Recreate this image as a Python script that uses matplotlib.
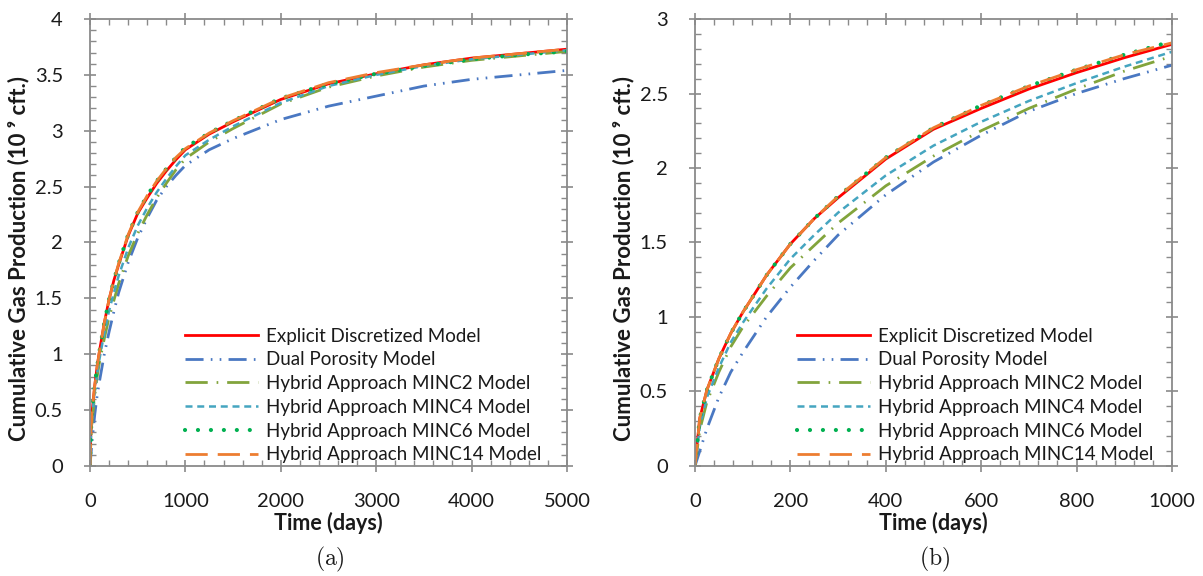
import matplotlib
matplotlib.use("Agg")
import matplotlib.pyplot as plt
from matplotlib.ticker import MultipleLocator, FuncFormatter

# ---------------- data ----------------
days = [0, 10, 25, 50, 75, 100, 150, 200, 250, 300, 400, 500, 600, 700, 800,
        900, 1000, 1250, 1500, 2000, 2500, 3000, 3500, 4000, 4500, 5000]

explicit = [0, 0.32, 0.51, 0.72, 0.89, 1.03, 1.28, 1.49, 1.66, 1.80, 2.06, 2.26,
            2.40, 2.53, 2.64, 2.74, 2.83, 2.97, 3.08, 3.28, 3.42, 3.51, 3.59,
            3.65, 3.69, 3.73]
dual = [0, 0.10, 0.25, 0.46, 0.63, 0.76, 1.00, 1.20, 1.38, 1.55, 1.82, 2.04,
        2.22, 2.38, 2.50, 2.60, 2.69, 2.83, 2.93, 3.10, 3.22, 3.31, 3.40, 3.46,
        3.50, 3.54]
minc2 = [0, 0.24, 0.43, 0.63, 0.80, 0.93, 1.14, 1.33, 1.48, 1.63, 1.88, 2.08,
         2.25, 2.40, 2.53, 2.65, 2.75, 2.90, 3.02, 3.24, 3.39, 3.49, 3.57, 3.63,
         3.67, 3.71]
minc4 = [0, 0.26, 0.46, 0.66, 0.83, 0.96, 1.19, 1.39, 1.55, 1.70, 1.95, 2.15,
         2.31, 2.45, 2.57, 2.68, 2.78, 2.92, 3.04, 3.25, 3.40, 3.50, 3.58, 3.64,
         3.68, 3.72]
minc6 = [0, 0.32, 0.51, 0.72, 0.89, 1.03, 1.28, 1.49, 1.66, 1.81, 2.07, 2.27,
         2.42, 2.55, 2.66, 2.76, 2.85, 2.98, 3.09, 3.29, 3.42, 3.51, 3.58, 3.64,
         3.68, 3.71]
minc14 = [0, 0.32, 0.51, 0.72, 0.89, 1.03, 1.28, 1.49, 1.66, 1.81, 2.07, 2.27,
          2.42, 2.55, 2.66, 2.76, 2.84, 2.98, 3.09, 3.29, 3.43, 3.52, 3.59,
          3.65, 3.69, 3.73]

labels = ["Explicit Discretized Model", "Dual Porosity Model",
          "Hybrid Approach MINC2 Model", "Hybrid Approach MINC4 Model",
          "Hybrid Approach MINC6 Model", "Hybrid Approach MINC14 Model"]
series = [explicit, dual, minc2, minc4, minc6, minc14]

# ---------------- styles ----------------
styles = [
    dict(color="#ff0000", lw=2.0, ls="-"),
    dict(color="#4a78c2", lw=2.0, dashes=(6.5, 2.6, 0.6, 2.6, 0.6, 2.6)),
    dict(color="#82a43c", lw=2.0, dashes=(8, 3.2, 0.6, 3.2)),
    dict(color="#45a5c0", lw=1.8, dashes=(2.8, 1.9)),
    dict(color="#00b050", lw=3.0, dashes=(0.01, 3.1), dash_capstyle="round"),
    dict(color="#ed7d31", lw=2.0, dashes=(8, 3.6)),
]

plt.rcParams["font.family"] = ["Lato", "DejaVu Sans"]
plt.rcParams["mathtext.fontset"] = "cm"

fig = plt.figure(figsize=(12.03, 5.76), dpi=100)
axA = fig.add_axes([0.0748, 0.191, 0.3965, 0.776])
axB = fig.add_axes([0.5777, 0.191, 0.3965, 0.776])

spine_col = "#8a8a8a"
txt_col = "#1a1a1a"


def setup(ax, xmax, xmaj, xmin, ymax, leg_x):
    for i, (y, st) in enumerate(zip(series, styles)):
        ax.plot(days, y, label=labels[i], **st)
    ax.set_xlim(0, xmax)
    ax.set_ylim(0, ymax)
    ax.xaxis.set_major_locator(MultipleLocator(xmaj))
    ax.xaxis.set_minor_locator(MultipleLocator(xmin))
    ax.yaxis.set_major_locator(MultipleLocator(0.5))
    ax.yaxis.set_minor_locator(MultipleLocator(0.1))
    ax.yaxis.set_major_formatter(FuncFormatter(lambda v, p: f"{v:g}"))
    for s in ax.spines.values():
        s.set_color(spine_col)
        s.set_linewidth(1.3)
    ax.tick_params(which="major", direction="inout", length=9, width=1.2,
                   color=spine_col, top=True, right=True, labelsize=14.5,
                   labelcolor=txt_col)
    ax.tick_params(axis="y", which="major", pad=15)
    ax.tick_params(axis="x", which="major", pad=15)
    ax.tick_params(which="minor", direction="in", length=4, width=1.0,
                   color=spine_col, top=True, right=True)
    ax.set_xlabel("Time (days)", fontsize=15.5, fontweight="bold",
                  color=txt_col, labelpad=1)
    ax.set_ylabel("Cumulative Gas Production (10 \u2079 cft.)", fontsize=16,
                  fontweight="bold", color=txt_col)
    ax.yaxis.set_label_coords(-0.128, 0.465)
    leg = ax.legend(loc="lower left", bbox_to_anchor=(leg_x, 0.006),
                    frameon=False, fontsize=13.5, handlelength=3.9,
                    handletextpad=0.4, labelspacing=0.36, borderpad=0.0,
                    borderaxespad=0.0)
    for t in leg.get_texts():
        t.set_color(txt_col)


setup(axA, 5000, 1000, 200, 4, 0.199)
setup(axB, 1000, 200, 40, 3, 0.214)

fig.text(0.274, 0.004, r"$\mathrm{(a)}$", ha="center", va="bottom",
         fontsize=17, color=txt_col)
fig.text(0.777, 0.004, r"$\mathrm{(b)}$", ha="center", va="bottom",
         fontsize=17, color=txt_col)

fig.savefig("out.png", dpi=100)
